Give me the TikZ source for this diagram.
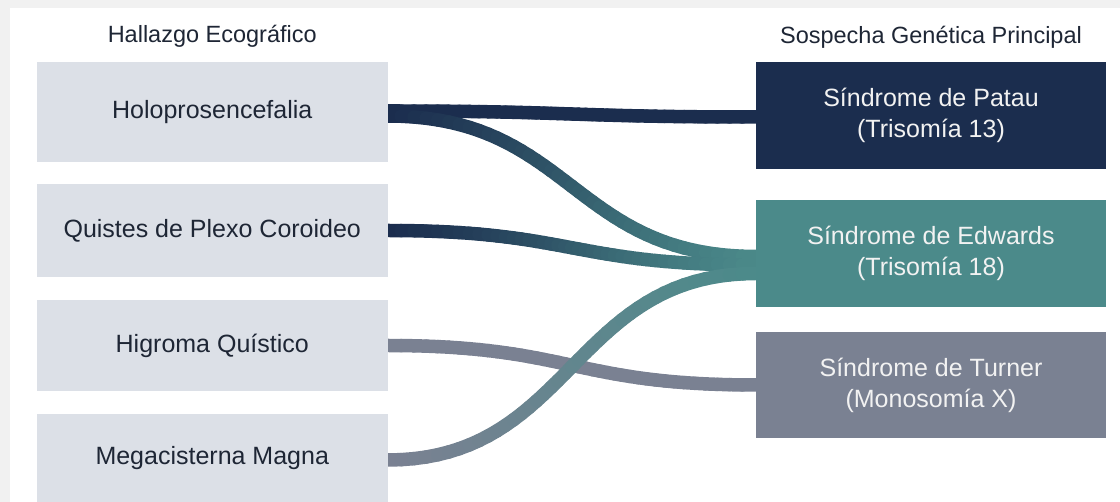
\documentclass[tikz,border=0pt]{standalone}
\usepackage{fontspec}
\setmainfont{Liberation Sans}
\usetikzlibrary{calc}
\definecolor{navy}{HTML}{1B2D4E}
\definecolor{edwteal}{HTML}{4B8A8A}
\definecolor{slate}{HTML}{7A8192}
\definecolor{boxgray}{HTML}{DCE0E7}
\definecolor{ink}{HTML}{1E2635}
\definecolor{paper}{HTML}{F1F1F1}
\pgfdeclarelayer{back}
\pgfsetlayers{back,main}
\tikzset{
	header/.style={text=ink, font=\fontsize{23.5}{28}\selectfont},
	finding/.style={fill=boxgray, text=ink, minimum width=350.5pt, inner sep=0pt, font=\fontsize{25}{31}\selectfont},
	syndrome/.style={text=white!95!black, minimum width=350pt, inner sep=0pt, align=center, font=\fontsize{25}{31}\selectfont},
}
\newcommand{\flow}[4]{%
	\path let \p1=(#1), \p2=(#2), \p3=($(\p1)!0.5!(\p2)$) in
		(\p1) .. controls (\x3,\y1) and (\x3,\y2) .. (\p2)
		\foreach \k [evaluate=\k as \t using \k/40] in {0,...,40} {coordinate[pos=\t] (f\k)};
	\foreach \k [evaluate=\k as \n using int(\k+1), evaluate=\k as \pc using 2.5*\k] in {0,...,39}
		\draw[line width=13.5pt, line cap=round, #4!\pc!#3] (f\k) -- (f\n);
}
\begin{document}
\begin{tikzpicture}[x=1pt, y=1pt]
	\useasboundingbox (0,0) rectangle (1120,502);
	\begin{pgfonlayer}{back}
		\fill[paper] (0,0) rectangle (1120,502);
		\fill[white] (10,0) rectangle (1120,494);
	\end{pgfonlayer}
	\node[header] (lhead) at (212.25,466) {Hallazgo Ecográfico};
	\node[header] (rhead) at (931,465) {Sospecha Genética Principal};
	\node[finding, minimum height=100pt] (holo) at (212.25,390) {Holoprosencefalia};
	\node[finding, minimum height=93pt] (quis) at (212.25,271.5) {Quistes de Plexo Coroideo};
	\node[finding, minimum height=91pt] (hig) at (212.25,156.5) {Higroma Quístico};
	\node[finding, minimum height=88pt] (mega) at (212.25,44) {Megacisterna Magna};
	\node[syndrome, fill=navy, minimum height=107pt] (pat) at (931,386.5) {Síndrome de Patau\\(Trisomía 13)};
	\node[syndrome, fill=edwteal, minimum height=107pt] (edw) at (931,248.5) {Síndrome de Edwards\\(Trisomía 18)};
	\node[syndrome, fill=slate, minimum height=106pt] (tur) at (931,117) {Síndrome de Turner\\(Monosomía X)};
	\coordinate (hp) at ($(holo.east)+(0,1)$);
	\coordinate (he) at ($(holo.east)+(0,-4)$);
	\coordinate (ph) at ($(pat.west)+(0,-1.5)$);
	\coordinate (eh) at ($(edw.west)+(0,-3)$);
	\coordinate (eq) at ($(edw.west)+(0,-11.5)$);
	\coordinate (em) at ($(edw.west)+(0,-20)$);
	\coordinate (me) at ($(mega.east)+(0,-2)$);
	\begin{pgfonlayer}{back}
		\flow{hp}{ph}{navy}{navy}
		\flow{he}{eh}{navy}{edwteal}
		\flow{quis.east}{eq}{navy}{edwteal}
		\flow{hig.east}{tur.west}{slate}{slate}
		\flow{me}{em}{slate}{edwteal}
	\end{pgfonlayer}
\end{tikzpicture}
\end{document}
